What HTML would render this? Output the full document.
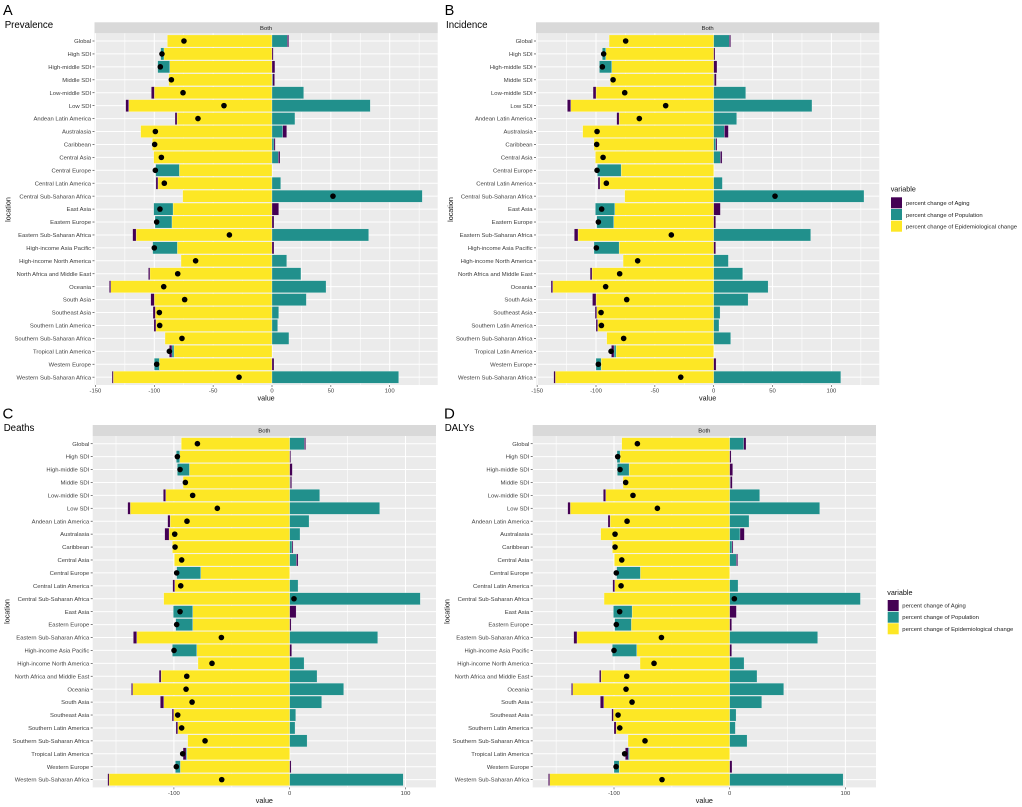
<!DOCTYPE html>
<html lang="en">
<head>
<meta charset="utf-8">
<title>Decomposition of percent change by location</title>
<style>
html,body{margin:0;padding:0;background:#fff;}
svg{display:block;font-family:"Liberation Sans",Arial,sans-serif;filter:blur(0.3px);}
</style>
</head>
<body>
<svg id="figure" xmlns="http://www.w3.org/2000/svg" width="1022" height="807" viewBox="0 0 1022 807">
  <g>
    <text x="890.7" y="191.6" font-size="7.2" fill="#111">variable</text>
    <rect x="891" y="197.3" width="11" height="11" fill="#440154"/>
    <rect x="891" y="209" width="11" height="11" fill="#21908C"/>
    <rect x="891" y="220.7" width="11" height="11" fill="#FDE725"/>
    <text x="906" y="205.1" font-size="5.9" fill="#222">percent change of Aging</text>
    <text x="906" y="216.8" font-size="5.9" fill="#222">percent change of Population</text>
    <text x="906" y="228.4" font-size="5.9" fill="#222">percent change of Epidemiological change</text>
  </g>
  <g>
    <text x="887.3" y="595" font-size="7.2" fill="#111">variable</text>
    <rect x="887.7" y="600" width="11" height="11" fill="#440154"/>
    <rect x="887.7" y="611.7" width="11" height="11" fill="#21908C"/>
    <rect x="887.7" y="623.3" width="11" height="11" fill="#FDE725"/>
    <text x="902.3" y="607.4" font-size="5.9" fill="#222">percent change of Aging</text>
    <text x="902.3" y="619.1" font-size="5.9" fill="#222">percent change of Population</text>
    <text x="902.3" y="630.8" font-size="5.9" fill="#222">percent change of Epidemiological change</text>
  </g>
</svg>
<script>
var categories = ["Global","High SDI","High-middle SDI","Middle SDI","Low-middle SDI","Low SDI","Andean Latin America","Australasia","Caribbean","Central Asia","Central Europe","Central Latin America","Central Sub-Saharan Africa","East Asia","Eastern Europe","Eastern Sub-Saharan Africa","High-income Asia Pacific","High-income North America","North Africa and Middle East","Oceania","South Asia","Southeast Asia","Southern Latin America","Southern Sub-Saharan Africa","Tropical Latin America","Western Europe","Western Sub-Saharan Africa"];

var prevalenceAging = [1.2,1.1,2.5,1.7,-2.5,-2.5,-1.7,3.4,1.1,1.4,0,-1.7,0,5.7,1.7,-2.9,1.7,0,-1.3,-1.2,-3,-2,-1.7,0,-2.2,1.7,-1.1];
var prevalencePopulation = [13,-2.8,-10.2,0.5,26.9,83.5,19.5,9.1,1.7,5.4,-20.1,7.4,127.7,-16.4,-14.4,82.1,-21,12.5,24.6,45.9,29.2,5.7,4.8,14.4,-1.7,-4.3,107.6];
var prevalenceEpi = [-88.9,-91.8,-86.9,-87.8,-100,-121.8,-80.7,-111.6,-101.7,-100.5,-78.7,-96.9,-75.9,-84.1,-85,-115.5,-80.4,-77.3,-103.7,-137,-100,-99.1,-98.6,-90.9,-83.3,-95.7,-134.8];
var prevalenceNet = [-74.8,-93.5,-94.9,-85.5,-75.6,-40.8,-62.9,-99.1,-99.7,-94,-99.1,-91.5,51.8,-95.2,-98,-36.2,-100,-64.9,-80.1,-92,-74.2,-95.7,-95.4,-76.5,-87.2,-98,-28];

var incidenceAging = [1.1,1.1,2.8,1.8,-2.5,-2.8,-2,3.4,1.1,1.4,0,-1.7,0,5.7,1.7,-3.1,1.7,0,-1.6,-1.4,-3,-1.4,-1.4,0,-2.2,2,-1.4];
var incidencePopulation = [13.3,-2.8,-10.4,0.5,27.2,83.5,19.5,9.1,1.7,5.7,-20.1,7.4,127.7,-16.4,-14.4,82.4,-21.3,12.5,24.6,46.2,29.2,5.4,4.5,14.4,-1.7,-4.3,108];
var incidenceEpi = [-88.9,-91.8,-86.7,-87.8,-100,-121.5,-80.4,-111.3,-101.7,-100.5,-78.7,-96.6,-75.6,-84.1,-85,-115.3,-80.4,-77,-103.4,-136.8,-100,-99.4,-98.6,-90.9,-83,-95.7,-134.5];
var incidenceNet = [-74.8,-93.5,-94.6,-85.5,-75.6,-40.8,-63.2,-99.1,-99.4,-94,-99.1,-91.2,52.1,-95.2,-98,-36,-99.7,-64.6,-79.9,-91.8,-73.9,-95.7,-95.4,-76.5,-87.2,-98,-28];

var deathsAging = [1.1,0.9,2.3,1.2,-2,-2.3,-2.1,-3.7,0.9,1.4,0,-1.7,0,5.5,1.2,-2.9,1.7,0,-1.7,-1.1,-2.9,-1.4,-1.5,0,-2.6,1.2,-1.2];
var deathsPopulation = [12.7,-2.9,-10.4,0.5,25.9,77.7,16.7,8.9,2,5.8,-20.7,7.2,112.8,-16.7,-14.6,76,-21,12.4,23.6,46.6,27.6,5.2,4.6,15,-0.8,-4.3,98];
var deathsEpi = [-93.6,-95,-86.6,-92.1,-107.1,-137.6,-103.3,-104.2,-101.3,-99.6,-76.9,-99.3,-108.8,-83.8,-83.8,-132.1,-80.3,-79.2,-111.1,-135.6,-108.8,-100.2,-96.7,-88.1,-88.7,-94.4,-156];
var deathsNet = [-79.7,-97,-94.7,-90.1,-83.8,-62.5,-88.7,-99.3,-99,-93.3,-97.6,-94.1,3.7,-94.7,-97.6,-59,-99.9,-67.1,-88.9,-89.5,-84.3,-96.7,-93.3,-73.1,-92.4,-97.9,-58.7];

var dalysAging = [2,1.2,2.6,1.8,-2,-2.3,-1.8,3.8,0.9,1.1,0,-1.7,0,5.8,1.7,-2.8,1.7,0,-1.4,-1.1,-2.9,-1.5,-1.8,0,-2.6,2,-1.1];
var dalysPopulation = [12.1,-2.6,-10.1,0.5,25.9,77.8,16.7,8.9,2,5.8,-20.5,7.2,113,-16.1,-14.4,76,-21,12.4,23.6,46.7,27.7,5.5,4.9,15,-0.9,-4.4,98];
var dalysEpi = [-93.3,-94.8,-87,-92.2,-107.2,-137.7,-103.4,-111.5,-101.4,-99.7,-77.2,-99.4,-108.6,-84.4,-85,-132,-80.4,-77.5,-111.2,-135.7,-108.9,-100.5,-98.2,-87.9,-86.7,-95.6,-155.6];
var dalysNet = [-79.8,-96.8,-94.8,-89.9,-83.6,-62.5,-88.7,-99.1,-99.1,-93.3,-98,-93.9,4,-95.1,-98,-59,-100,-65.4,-89,-89.6,-84.4,-96.5,-95,-73.2,-90.8,-98.2,-58.5];

var topMajorTicks = [-150,-100,-50,0,50,100];
var topMinorTicks = [-125,-75,-25,25,75,125];
var bottomMajorTicks = [-100,0,100];
var bottomMinorTicks = [-150,-50,50];

var fillAging = "#440154";
var fillPopulation = "#21908C";
var fillEpi = "#FDE725";

var panels = [
  {key:"prevalence", letter:"A", title:"Prevalence", aging:prevalenceAging, population:prevalencePopulation, epi:prevalenceEpi, net:prevalenceNet, major:topMajorTicks, minor:topMinorTicks,
   left:94.5, right:437.7, stripTop:22.3, top:33.3, bottom:385, zero:272, unit:1.177, firstRow:41, step:12.93, letterX:3, letterY:15.2, letterSize:14.5, titleX:4.7, titleY:28, labelX:8, labelY:209.5, valueY:400.4, tickY:392.4},
  {key:"incidence", letter:"B", title:"Incidence", aging:incidenceAging, population:incidencePopulation, epi:incidenceEpi, net:incidenceNet, major:topMajorTicks, minor:topMinorTicks,
   left:536, right:879.3, stripTop:22.3, top:33.3, bottom:385, zero:713.7, unit:1.177, firstRow:41, step:12.93, letterX:444.6, letterY:15.2, letterSize:14.5, titleX:446, titleY:28, labelX:450.5, labelY:209.5, valueY:400.4, tickY:392.4},
  {key:"deaths", letter:"C", title:"Deaths", aging:deathsAging, population:deathsPopulation, epi:deathsEpi, net:deathsNet, major:bottomMajorTicks, minor:bottomMinorTicks,
   left:92.7, right:436, stripTop:425, top:436, bottom:787.4, zero:289.7, unit:1.158, firstRow:443.7, step:12.92, letterX:2.5, letterY:418.5, letterSize:15, titleX:3.7, titleY:431, labelX:7, labelY:611.5, valueY:803, tickY:794.8},
  {key:"dalys", letter:"D", title:"DALYs", aging:dalysAging, population:dalysPopulation, epi:dalysEpi, net:dalysNet, major:bottomMajorTicks, minor:bottomMinorTicks,
   left:532.7, right:876, stripTop:425, top:436, bottom:787.4, zero:729.7, unit:1.157, firstRow:443.7, step:12.92, letterX:444, letterY:418.5, letterSize:15, titleX:444.7, titleY:431, labelX:447, labelY:611.5, valueY:803, tickY:794.8}
];

var NS = "http://www.w3.org/2000/svg";
var figure = document.getElementById("figure");

function make(tag, attrs, parent) {
  var el = document.createElementNS(NS, tag);
  for (var k in attrs) { el.setAttribute(k, attrs[k]); }
  parent.appendChild(el);
  return el;
}
function xScale(p, v) { return p.zero + v * p.unit; }
function yScale(p, i) { return p.firstRow + i * p.step; }

function drawSegment(p, g, i, start, value, fill, seriesName) {
  var a = xScale(p, start);
  var b = xScale(p, start + value);
  var h = p.step * 0.935;
  var r = make("rect", {x: Math.min(a, b), y: yScale(p, i) - h / 2, width: Math.abs(b - a), height: h, fill: fill, stroke: "#fff", "stroke-width": 0.25}, g);
  
  
  r.setAttribute('data-series', seriesName);
}

function drawStack(p, g, i) {
  var series = [[p.epi[i], fillEpi, "epidemiological"], [p.population[i], fillPopulation, "population"], [p.aging[i], fillAging, "aging"]];
  var neg = 0, pos = 0;
  series.forEach(function (s) {
    var v = s[0];
    if (v === 0) { return; }
    if (v < 0) { drawSegment(p, g, i, neg, v, s[1], s[2]); neg += v; }
    else { drawSegment(p, g, i, pos, v, s[1], s[2]); pos += v; }
  });
}

panels.forEach(function (p) {
  var group = make("g", {}, figure);
  
  

  var letter = make("text", {x: p.letterX, y: p.letterY, "font-size": p.letterSize, fill: "#000"}, group);
  
  
  letter.textContent = p.letter;

  var title = make("text", {x: p.titleX, y: p.titleY, "font-size": 9.7, fill: "#000"}, group);
  
  
  title.textContent = p.title;

  var strip = make("rect", {x: p.left, y: p.stripTop, width: p.right - p.left, height: p.top - p.stripTop, fill: "#d9d9d9"}, group);
  
  

  var stripLabel = make("text", {x: (p.left + p.right) / 2, y: (p.stripTop + p.top) / 2 + 2.1, "font-size": 5.9, fill: "#1a1a1a", "text-anchor": "middle"}, group);
  
  
  stripLabel.textContent = "Both";

  var bg = make("rect", {x: p.left, y: p.top, width: p.right - p.left, height: p.bottom - p.top, fill: "#ebebeb"}, group);
  
  

  p.minor.forEach(function (t) {
    var line = make("line", {x1: xScale(p, t), x2: xScale(p, t), y1: p.top, y2: p.bottom, stroke: "#fff", "stroke-width": 0.6}, group);
    
    
  });
  p.major.forEach(function (t) {
    var line = make("line", {x1: xScale(p, t), x2: xScale(p, t), y1: p.top, y2: p.bottom, stroke: "#fff", "stroke-width": 1}, group);
    
    

    var tick = make("line", {x1: xScale(p, t), x2: xScale(p, t), y1: p.bottom, y2: p.bottom + 2, stroke: "#444", "stroke-width": 0.6}, group);
    
    

    var label = make("text", {x: xScale(p, t), y: p.tickY, "font-size": 5.9, fill: "#3d3d3d", "text-anchor": "middle"}, group);
    
    
    label.textContent = String(t);
  });

  categories.forEach(function (name, i) {
    var y = yScale(p, i);
    var rowLine = make("line", {x1: p.left, x2: p.right, y1: y, y2: y, stroke: "#fff", "stroke-width": 1}, group);
    
    

    var tick = make("line", {x1: p.left - 2, x2: p.left, y1: y, y2: y, stroke: "#444", "stroke-width": 0.7}, group);
    
    

    var label = make("text", {x: p.left - 3.4, y: y + 2.1, "font-size": 5.9, fill: "#3d3d3d", "text-anchor": "end"}, group);
    
    
    label.textContent = name;
  });

  categories.forEach(function (name, i) { drawStack(p, group, i); });

  categories.forEach(function (name, i) {
    var dot = make("circle", {cx: xScale(p, p.net[i]), cy: yScale(p, i), r: 2.8, fill: "#000"}, group);
    
    
  });

  var yTitle = make("text", {x: 0, y: 0, "font-size": 7.2, fill: "#111", "text-anchor": "middle", transform: "translate(" + (p.labelX + 2.4) + "," + p.labelY + ") rotate(-90)"}, group);
  
  
  yTitle.textContent = "location";

  var xTitle = make("text", {x: (p.left + p.right) / 2, y: p.valueY, "font-size": 7.2, fill: "#111", "text-anchor": "middle"}, group);
  
  
  xTitle.textContent = "value";
});
</script>
</body>
</html>
